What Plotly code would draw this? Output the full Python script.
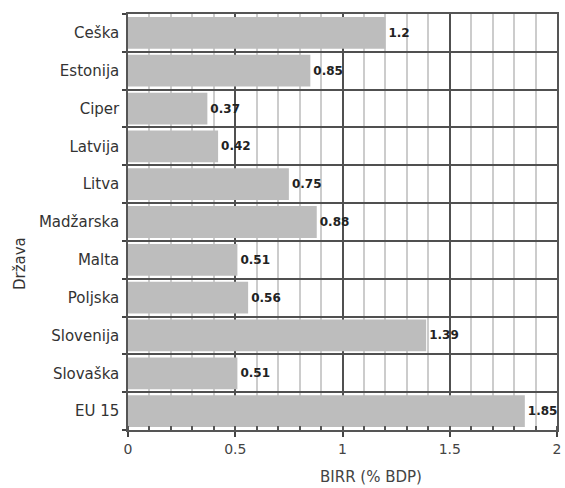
import plotly.graph_objects as go

countries = ["Ceška", "Estonija", "Ciper", "Latvija", "Litva", "Madžarska",
             "Malta", "Poljska", "Slovenija", "Slovaška", "EU 15"]
values = [1.2, 0.85, 0.37, 0.42, 0.75, 0.88, 0.51, 0.56, 1.39, 0.51, 1.85]
labels = ["1.2", "0.85", "0.37", "0.42", "0.75", "0.88", "0.51", "0.56", "1.39", "0.51", "1.85"]
x_ticks = [0, 0.5, 1, 1.5, 2]
x_tick_text = ["0", "0.5", "1", "1.5", "2"]
x_title = "BIRR (% BDP)"
y_title = "Država"

FONT = "DejaVu Sans, Verdana, sans-serif"
n = len(countries)
y_pos = list(range(n))
boundaries = [i - 0.5 for i in range(n + 1)]

fig = go.Figure(go.Bar(
    x=values, y=y_pos, orientation="h",
    marker=dict(color="#bdbdbd", line=dict(width=0)),
    text=labels, textposition="outside", cliponaxis=False,
    textfont=dict(family=FONT, size=12, color="#222"),
    texttemplate="<b>%{text}</b>",
))

fig.update_layout(
    width=565, height=488,
    margin=dict(l=128, r=8, t=14, b=58, autoexpand=False),
    paper_bgcolor="white", plot_bgcolor="white",
    bargap=0.16, showlegend=False,
    font=dict(family=FONT, color="#333"),
    annotations=[
        dict(text=x_title, xref="paper", yref="paper", x=0.566, y=-0.113,
             xanchor="center", yanchor="middle", showarrow=False,
             font=dict(family=FONT, size=15, color="#444")),
        dict(text=y_title, xref="paper", yref="paper", x=-0.2517, y=0.399,
             xanchor="center", yanchor="middle", showarrow=False, textangle=-90,
             font=dict(family=FONT, size=15, color="#333")),
    ],
)
fig.update_xaxes(
    range=[0, 2], tickvals=x_ticks, ticktext=x_tick_text, automargin=False,
    ticklabeloverflow="allow",
    showgrid=True, gridcolor="#505050", gridwidth=2,
    minor=dict(dtick=0.1, showgrid=True, gridcolor="#cccccc", gridwidth=1.5,
               ticks="inside", ticklen=4, tickcolor="#555"),
    ticks="outside", ticklen=5, tickcolor="#444", tickwidth=1.5,
    showline=True, linecolor="#555", linewidth=1.5, mirror=True,
    zeroline=False,
    tickfont=dict(family=FONT, size=14, color="#444"),
)
fig.update_yaxes(
    range=[n - 0.5, -0.5], tickvals=y_pos, ticktext=countries, automargin=False,
    showgrid=False, ticks="", ticklabelstandoff=4,
    minor=dict(tickvals=boundaries, showgrid=True, gridcolor="#505050", gridwidth=2,
               ticks="outside", ticklen=4, tickcolor="#444", tickwidth=1.5),
    showline=True, linecolor="#555", linewidth=1.5, mirror=True,
    zeroline=False,
    tickfont=dict(family=FONT, size=15, color="#333"),
)

# remove the browser's default 8px page margin so the figure fills the window
fig.write_html("out.html",
               config={"displayModeBar": False},
               post_script="document.body.style.margin='0';document.body.style.overflow='hidden';")
